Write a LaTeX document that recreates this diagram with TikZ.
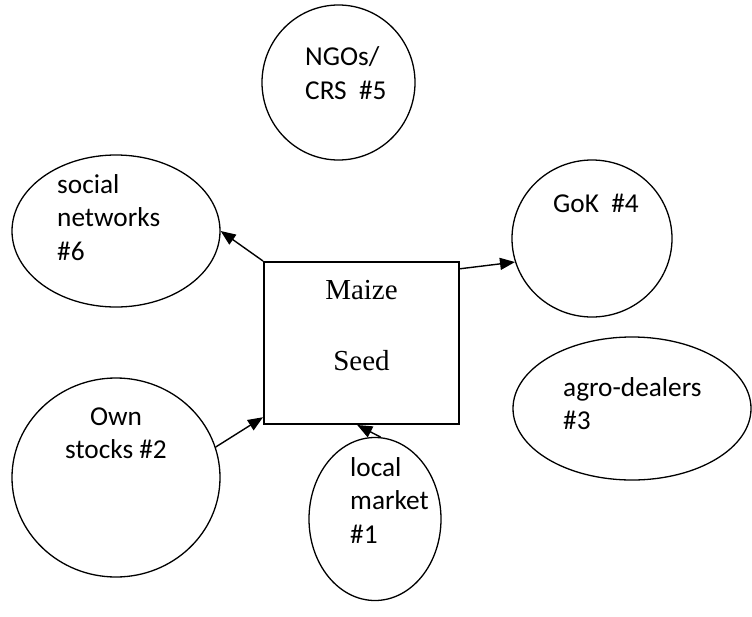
\documentclass[tikz,border=0pt]{standalone}
\usepackage{fontspec}
\usetikzlibrary{shapes.geometric,arrows.meta}
\newfontfamily\cfont{Carlito}
\newfontfamily\tfont{Liberation Serif}
\begin{document}
\begin{tikzpicture}[x=1pt,y=-1pt,
  circ/.style={ellipse,draw,line width=1.3pt,inner sep=0pt},
  lbl/.style={anchor=base west,inner sep=0pt,font=\cfont\fontsize{27.3}{33.5}\selectfont},
  lblc/.style={anchor=base,inner sep=0pt,font=\cfont\fontsize{27.3}{33.5}\selectfont},
  mtxt/.style={anchor=base,inner sep=0pt,font=\tfont\fontsize{29}{34}\selectfont},
  arr/.style={line width=1.4pt,-{Triangle[length=15pt,width=12pt]}}]
\useasboundingbox (0,0) rectangle (752,616);
% box
\node[draw,line width=2pt,minimum width=195pt,minimum height=162pt,inner sep=0pt] (box) at (361.5,343) {};
\node[mtxt] (m1) at (361.5,299) {Maize};
\node[mtxt] (m2) at (361.5,370) {Seed};
% circles
\node[circ,minimum width=208pt,minimum height=152pt] (soc) at (116,231) {};
\node[circ,minimum width=153pt,minimum height=155pt] (ngo) at (338.5,82.5) {};
\node[circ,minimum width=160pt,minimum height=157pt] (gok) at (592,238.5) {};
\node[circ,minimum width=238pt,minimum height=143pt] (agro) at (632,408.5) {};
\node[circ,minimum width=208pt,minimum height=199pt] (own) at (116,477.5) {};
\node[circ,minimum width=132pt,minimum height=163pt] (loc) at (375,519) {};
% labels
\node[lbl] (s1) at (57,193) {social};
\node[lbl] (s2) at (57,226.5) {networks};
\node[lbl] (s3) at (57,260) {\#6};
\node[lbl] (n1) at (305,65) {NGOs/};
\node[lbl] (n2) at (305,99) {CRS\ \ \#5};
\node[lbl] (g1) at (553,212) {GoK\ \ \#4};
\node[lbl] (a1) at (563,396) {agro-dealers};
\node[lbl] (a2) at (563,429.5) {\#3};
\node[lblc] (o1) at (116,425) {Own};
\node[lblc] (o2) at (116,458) {stocks \#2};
\node[lbl] (l1) at (350,476) {local};
\node[lbl] (l2) at (350,509.5) {market};
\node[lbl] (l3) at (350,543) {\#1};
% connectors
\draw[arr] (box.north west) -- (soc.east);
\draw[arr] (box.37.6) -- (gok.197);
\draw[arr] (own.17) -- (box.217.6);
\draw[arr] (loc.86) -- (box.267.5);
\end{tikzpicture}
\end{document}
